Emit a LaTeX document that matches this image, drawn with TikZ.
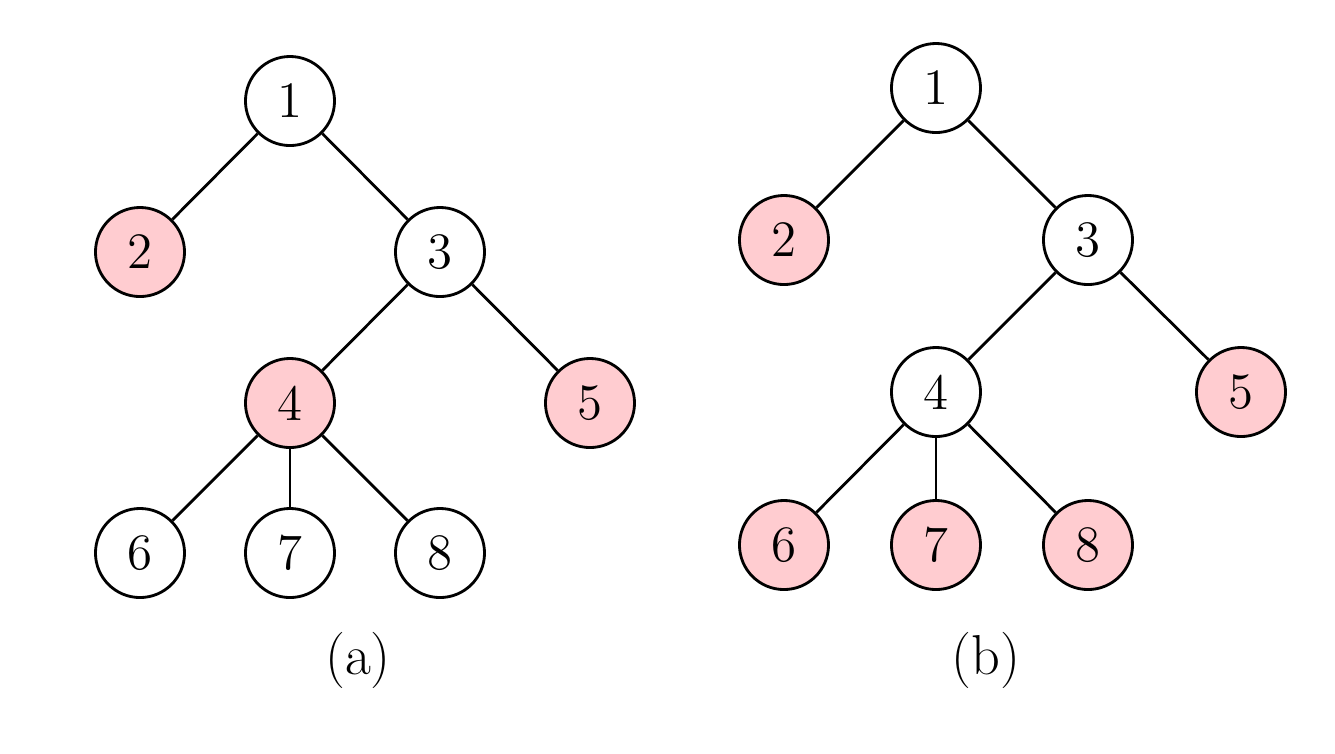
\documentclass[tikz,border=0pt]{standalone}
\usepackage{xcolor}
\usepackage{tikz}
\usetikzlibrary{positioning}
\definecolor{markpink}{RGB}{255,204,208}
\tikzset{
  vert/.style={circle, draw=black, fill=white, line width=0.8pt,
    minimum size=0.89cm, inner sep=0pt, font=\fontsize{14.5}{17}\selectfont},
  marked/.style={vert, fill=markpink},
  edge/.style={line width=0.8pt},
  caption/.style={font=\fontsize{16}{19}\selectfont},
}
\begin{document}
\begin{tikzpicture}[x=0.01cm, y=-0.01cm]
\useasboundingbox (0,0) rectangle (1335,753);

% ── Tree (a) ──
\node[vert]   (a1) at (290,101) {1};
\node[marked] (a2) at (140,252) {2};
\node[vert]   (a3) at (440,252) {3};
\node[marked] (a4) at (290,403) {4};
\node[marked] (a5) at (590,403) {5};
\node[vert]   (a6) at (140,553) {6};
\node[vert]   (a7) at (290,553) {7};
\node[vert]   (a8) at (440,553) {8};
\node[caption] (capa) at (358,660) {(a)};

% ── Tree (b) ──
\node[vert]   (b1) at (936,88) {1};
\node[marked] (b2) at (784,240) {2};
\node[vert]   (b3) at (1088,240) {3};
\node[vert]   (b4) at (936,392) {4};
\node[marked] (b5) at (1241,392) {5};
\node[marked] (b6) at (784,545) {6};
\node[marked] (b7) at (936,545) {7};
\node[marked] (b8) at (1088,545) {8};
\node[caption] (capb) at (986,660) {(b)};

% ── Edges ──
\foreach \t in {a,b} {
  \draw[edge] (\t1) -- (\t2);
  \draw[edge] (\t1) -- (\t3);
  \draw[edge] (\t3) -- (\t4);
  \draw[edge] (\t3) -- (\t5);
  \draw[edge] (\t4) -- (\t6);
  \draw[edge] (\t4) -- (\t7);
  \draw[edge] (\t4) -- (\t8);
}

\end{tikzpicture}
\end{document}
